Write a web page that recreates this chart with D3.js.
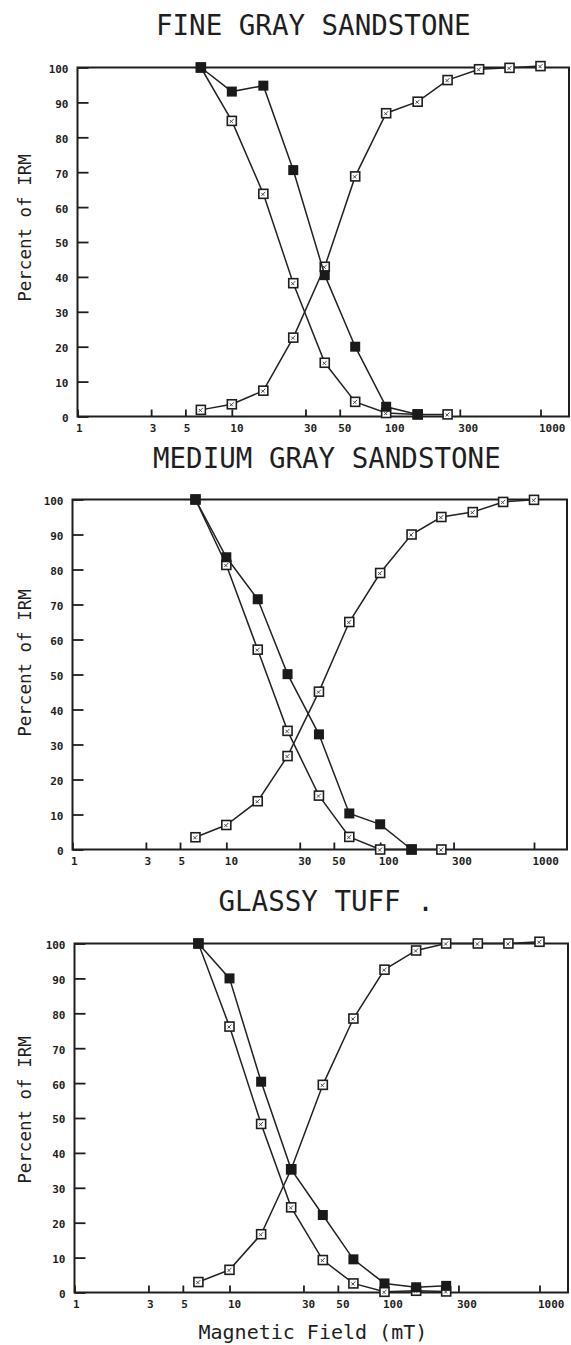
<!DOCTYPE html>
<html>
<head>
<meta charset="utf-8">
<script src="https://cdn.jsdelivr.net/npm/d3@7/dist/d3.min.js"></script>
<style>
  body { margin: 0; background: #fff; }
  svg text { font-family: "DejaVu Sans Mono", monospace; fill: #1e1e1e; }
  .title { font-size: 27.5px; }
  .ylabel { font-size: 17.5px; }
  .xlabel { font-size: 20px; }
  .tick text { font-size: 11px; font-weight: bold; font-family: "DejaVu Sans Mono", monospace; fill: #1e1e1e; }
  .tick line { stroke: #1e1e1e; stroke-width: 1.8; }
  .frame { fill: none; stroke: #1e1e1e; stroke-width: 2; }
  .curve { fill: none; stroke: #222; stroke-width: 1.5; }
</style>
</head>
<body>
<svg id="chart" width="571" height="1345"></svg>
<script>
// AF / IRM fields in mT (same steps for all three samples)
var fields = [6.3, 10, 16, 25, 40, 63, 100, 160, 250, 400, 630, 1000];
var xTicks = [1, 3, 5, 10, 30, 50, 100, 300, 1000];
var yTicks = [0, 10, 20, 30, 40, 50, 60, 70, 80, 90, 100];
var titles = ["FINE GRAY SANDSTONE", "MEDIUM GRAY SANDSTONE", "GLASSY TUFF ."];

// percent of IRM
// filled squares = AF demag (solid), open = AF demag, open rising = IRM acquisition
var fineFilled = [100, 93.1, 94.8, 70.6, 40.5, 20, 2.8, 0.6];
var fineOpen = [100, 84.7, 63.8, 38.2, 15.4, 4.2, 1.0, 0.6, 0.6];
var fineIrm = [1.9, 3.5, 7.4, 22.6, 42.9, 68.8, 86.9, 90.2, 96.4, 99.5, 99.9, 100.4];

var mediumFilled = [100, 83.5, 71.5, 50.1, 32.9, 10.3, 7.2, 0];
var mediumOpen = [100, 81.3, 57.1, 33.9, 15.4, 3.6, 0, 0, 0];
var mediumIrm = [3.5, 7, 13.8, 26.7, 45.1, 65, 79, 90, 95, 96.4, 99.3, 99.9];

var tuffFilled = [100, 90, 60.4, 35.3, 22.2, 9.5, 2.6, 1.5, 1.9];
var tuffOpen = [100, 76.2, 48.3, 24.4, 9.3, 2.6, 0.2, 0.5, 0.3];
var tuffIrm = [3, 6.5, 16.7, 35.3, 59.5, 78.5, 92.5, 98, 100, 100, 100, 100.5];

// page layout of the three stacked panels
var layout = [
    {left: 77.5, right: 569, top: 67.5, bottom: 416.5, x1000: 540.5, titleX: 156, titleY: 34.5, labelY: 228},
    {left: 72.5, right: 567, top: 499.5, bottom: 849.5, x1000: 534, titleX: 153, titleY: 467.5, labelY: 663},
    {left: 74.5, right: 568, top: 943.5, bottom: 1292.5, x1000: 539.5, titleX: 218.5, titleY: 911, labelY: 1110}
];

/** One panel of the figure */
class Panel {
    constructor(svg, box, title) {
        this.box = box;
        this.g = svg.append('g');
        this.x = d3.scaleLog().domain([1, 1000]).range([box.left, box.x1000]);
        this.y = d3.scaleLinear().domain([0, 100]).range([box.bottom, box.top]);
        this.title = title;
    }

    drawFrame() {
        var b = this.box;
        this.g.append('text').attr('class', 'title')
            .attr('x', b.titleX).attr('y', b.titleY).text(this.title);

        this.g.append('text').attr('class', 'ylabel')
            .attr('text-anchor', 'middle')
            .attr('transform', 'translate(31,' + b.labelY + ') rotate(-90)')
            .text('Percent of IRM');

        // ticks point into the plot
        this.g.append('g').attr('transform', 'translate(' + b.left + ',0)')
            .call(d3.axisLeft(this.y).tickValues(yTicks).tickSize(-11).tickSizeOuter(0).tickPadding(9))
            .call(g => g.select('.domain').remove())
            .selectAll('text').attr('dy', '0.45em');

        this.g.append('g').attr('transform', 'translate(0,' + b.bottom + ')')
            .call(d3.axisBottom(this.x).tickValues(xTicks).tickFormat(d3.format('d'))
                .tickSize(-7).tickSizeOuter(0).tickPadding(8))
            .call(g => g.select('.domain').remove())
            .selectAll('text').attr('text-anchor', 'start').attr('dx', '-2');

        this.g.append('rect').attr('class', 'frame')
            .attr('x', b.left).attr('y', b.top)
            .attr('width', b.right - b.left).attr('height', b.bottom - b.top);
    }

    drawSeries(values, filled) {
        var x = this.x, y = this.y;
        var pts = values.map(function(v, i) { return [fields[i], v]; });
        var line = d3.line().x(d => x(d[0])).y(d => y(d[1]));

        this.g.append('path').datum(pts).attr('class', 'curve').attr('d', line);

        var marks = this.g.append('g').selectAll('g').data(pts).enter().append('g')
            .attr('transform', d => 'translate(' + x(d[0]) + ',' + y(d[1]) + ')');

        if (filled) {
            marks.append('rect').attr('x', -5).attr('y', -5).attr('width', 10).attr('height', 10)
                .attr('fill', '#1a1a1a');
        } else {
            marks.append('rect').attr('x', -4.5).attr('y', -4.5).attr('width', 9).attr('height', 9)
                .attr('fill', '#fff').attr('stroke', '#1e1e1e').attr('stroke-width', 1.6);
            // little hatch inside the open squares
            marks.append('path').attr('d', 'M-2,2L2,-2M-2,-1L1,2')
                .attr('stroke', '#333').attr('stroke-width', 0.9);
        }
    }
}

var svg = d3.select('#chart');
var series = [
    [fineFilled, fineOpen, fineIrm],
    [mediumFilled, mediumOpen, mediumIrm],
    [tuffFilled, tuffOpen, tuffIrm]
];

for (var i = 0; i < layout.length; i++) {
    var p = new Panel(svg, layout[i], titles[i]);
    p.drawFrame();
    p.drawSeries(series[i][2], false);
    p.drawSeries(series[i][1], false);
    p.drawSeries(series[i][0], true);
}

svg.append('text').attr('class', 'xlabel')
    .attr('x', 198.5).attr('y', 1339)
    .text('Magnetic Field (mT)');
</script>
</body>
</html>
